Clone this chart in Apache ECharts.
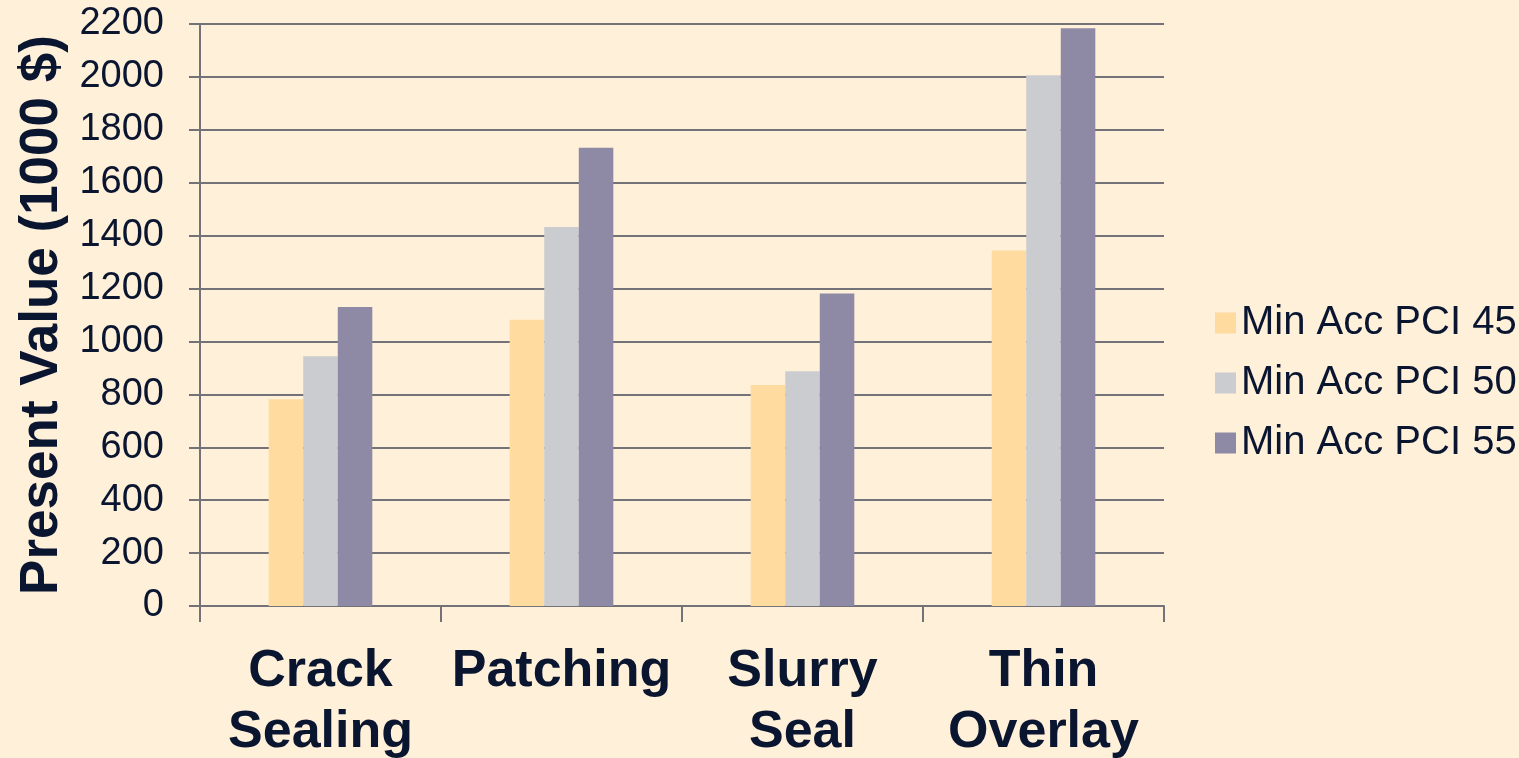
<!DOCTYPE html>
<html>
<head>
<meta charset="utf-8">
<script src="https://cdn.jsdelivr.net/npm/echarts@6/dist/echarts.min.js"></script>
<style>
html,body{margin:0;padding:0;background:#FFF0DA;}
#chart{width:1519px;height:758px;}
</style>
</head>
<body>
<div id="chart"></div>
<script>
const categories = ['Crack\nSealing', 'Patching', 'Slurry\nSeal', 'Thin\nOverlay'];
const seriesNames = ['Min Acc PCI 45', 'Min Acc PCI 50', 'Min Acc PCI 55'];
const pci45 = [782, 1082, 835, 1344];
const pci50 = [944, 1433, 887, 2006];
const pci55 = [1130, 1732, 1181, 2184];
const yTicks = { min: 0, max: 2200, interval: 200 };
const yAxisTitle = 'Present Value (1000 $)';

const colors = ['#FFDBA0', '#CBCCD0', '#8E8AA5'];
const textColor = '#0A1530';
const gridColor = '#727278';
const font = 'Liberation Sans, Arial, sans-serif';

const chart = echarts.init(document.getElementById('chart'));
const dataSets = [pci45, pci50, pci55];
chart.setOption({
  backgroundColor: '#FFF0DA',
  animation: false,
  color: colors,
  grid: { left: 200, right: 355, top: 24, bottom: 152, containLabel: false, outerBoundsMode: 'none' },
  legend: {
    orient: 'vertical',
    left: 1210,
    top: 298,
    itemWidth: 21,
    itemHeight: 21,
    itemGap: 20,
    itemTextGap: 10,
    icon: 'rect',
    textStyle: { fontFamily: font, fontSize: 40, color: textColor, lineHeight: 40, padding: [0, 0, 0, 0] },
    itemStyle: { borderWidth: 0 },
    data: seriesNames
  },
  xAxis: {
    type: 'category',
    data: categories,
    axisLine: { lineStyle: { color: gridColor, width: 2 } },
    axisTick: { show: true, length: 16, lineStyle: { color: gridColor, width: 2 } },
    axisLabel: { fontFamily: font, fontSize: 52, fontWeight: 'bold', color: textColor, lineHeight: 61, margin: 35, interval: 0 }
  },
  yAxis: {
    type: 'value',
    min: yTicks.min,
    max: yTicks.max,
    interval: yTicks.interval,
    name: yAxisTitle,
    nameLocation: 'middle',
    nameGap: 126,
    nameRotate: 90,
    nameTextStyle: { fontFamily: font, fontSize: 53, fontWeight: 'bold', color: textColor },
    axisLine: { show: true, lineStyle: { color: gridColor, width: 2 } },
    axisTick: { show: true, length: 11, lineStyle: { color: gridColor, width: 2 } },
    axisLabel: { fontFamily: font, fontSize: 38, color: textColor, margin: 36, formatter: v => String(v) },
    splitLine: { show: true, lineStyle: { color: gridColor, width: 2 } }
  },
  series: dataSets.map((d, i) => ({
    name: seriesNames[i],
    type: 'bar',
    data: d,
    barGap: '0%',
    barCategoryGap: '57%',
    itemStyle: { color: colors[i] }
  }))
});
</script>
</body>
</html>
